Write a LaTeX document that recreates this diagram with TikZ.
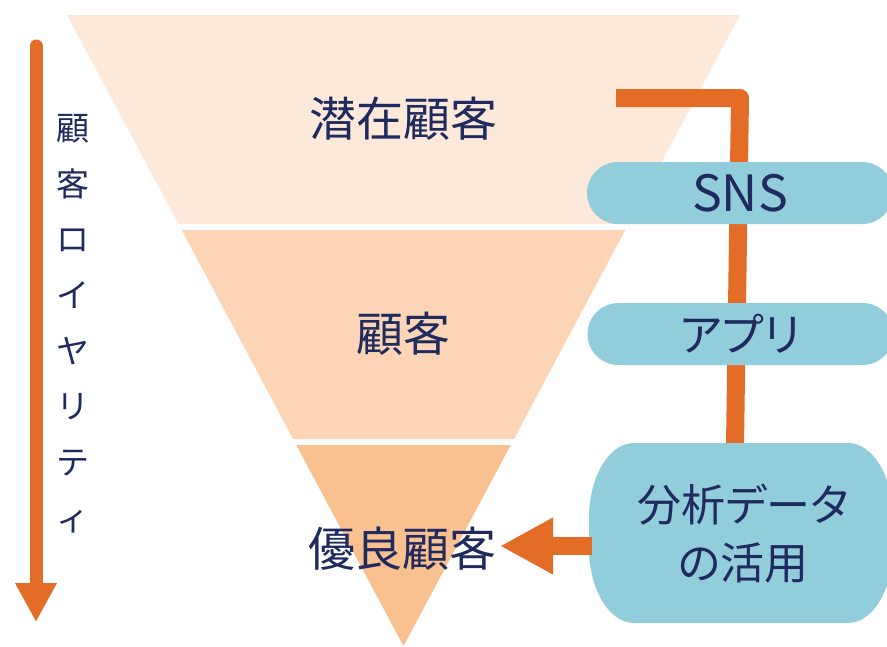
\documentclass[tikz,border=0pt]{standalone}
\usepackage{fontspec}
\setmainfont{Noto Sans CJK JP}[RawFeature=+palt]
\newfontfamily\jpfull{Noto Sans CJK JP}
\usetikzlibrary{arrows.meta,shapes.misc}
\definecolor{bandA}{HTML}{FDE9D9}
\definecolor{bandB}{HTML}{FBD5B5}
\definecolor{bandC}{HTML}{F9C18F}
\definecolor{navy}{HTML}{1F2A5E}
\definecolor{orng}{HTML}{E36C26}
\definecolor{skyb}{HTML}{92CDDC}
\tikzset{
  lbl/.style={text=navy, font=\fontsize{47}{52}\selectfont, inner sep=0pt},
  pill/.style={rounded rectangle, fill=skyb, text=navy, inner sep=0pt,
     minimum width=306pt, minimum height=62pt},
  conn/.style={draw=orng, line width=18pt, line join=round},
}
\begin{document}
\begin{tikzpicture}[x=1pt,y=1pt]
\useasboundingbox (0,0) rectangle (887,-646);
\clip (0,0) rectangle (887,-646);
% funnel bands
\fill[bandA] (67,-15) -- (740,-15) -- (628.5,-224) -- (178.5,-224) -- cycle;
\fill[bandB] (181.7,-230) -- (625.3,-230) -- (513.9,-439) -- (293.1,-439) -- cycle;
\fill[bandC] (296.3,-445) -- (510.7,-445) -- (403.5,-646) -- cycle;
\node[lbl] (pot) at (403,-119) {潜在顧客};
\node[lbl] (cust) at (403,-334) {顧客};
\node[lbl] (good) at (402,-549) {優良顧客};
% left loyalty arrow
\coordinate (ltop) at (36,-46);
\coordinate (lbot) at (36,-622);
\draw[orng, line width=13pt, line cap=round, -{Triangle[length=39pt,width=39pt]}] (ltop) -- (lbot);
\node[text=navy, font=\jpfull\fontsize{33}{55.7}\selectfont, align=center, inner sep=0pt, anchor=north] (loy) at (73,-114)
  {顧\\客\\ロ\\イ\\ヤ\\リ\\テ\\ィ};
% connector line behind pills
\coordinate (cstart) at (616,-98);
\coordinate (ccorner) at (740,-98);
\coordinate (cend) at (735,-446);
\draw[conn] (cstart) -- (ccorner) -- (cend);
% pills
\node[pill, font=\fontsize{50}{52}\selectfont] (sns) at (740,-193) {SNS};
\node[pill, font=\fontsize{45}{50}\selectfont] (app) at (740.5,-334) {アプリ};
% big box
\fill[skyb] (634,-443) -- (848,-443) arc[start angle=90,end angle=0,x radius=45,y radius=75]
  -- (893,-548) arc[start angle=0,end angle=-90,x radius=45,y radius=75]
  -- (634,-623) arc[start angle=270,end angle=180,x radius=45,y radius=75]
  -- (589,-518) arc[start angle=180,end angle=90,x radius=45,y radius=75] -- cycle;
\node[text=navy, font=\fontsize{44}{58}\selectfont, align=center, inner sep=0pt] (data) at (743,-534) {分析データ\\の活用};
% arrow to 優良顧客
\coordinate (aw) at (592,-546);
\coordinate (atip) at (500,-546);
\draw[orng, line width=18pt, -{Triangle[length=53pt,width=53pt]}] (aw) -- (atip);
\end{tikzpicture}
\end{document}
